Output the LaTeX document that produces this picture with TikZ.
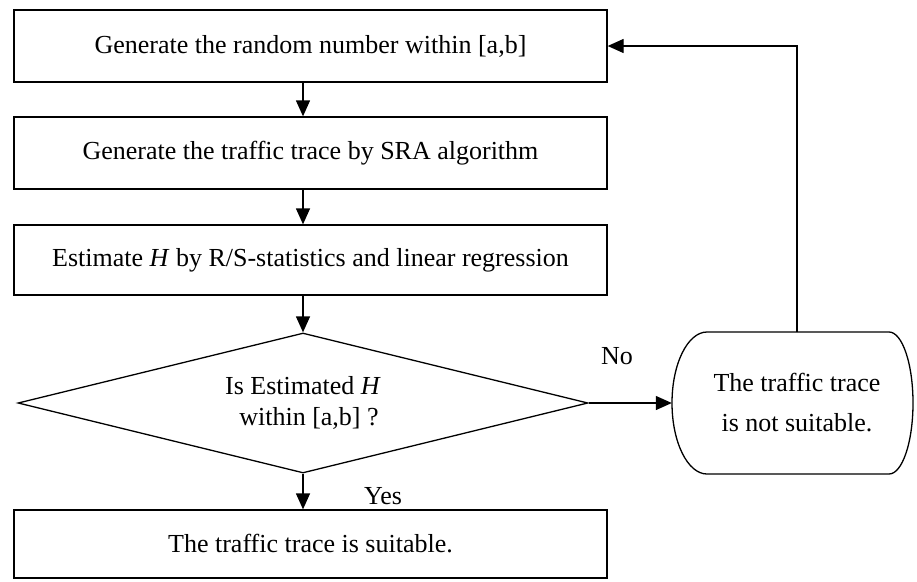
\documentclass[tikz,border=0pt]{standalone}
\usepackage{fontspec}
\setmainfont{Liberation Serif}
\usetikzlibrary{arrows.meta,shapes.geometric}
\begin{document}
\begin{tikzpicture}[x=1pt,y=1pt,
  lw/.style={line width=1.3pt},
  box/.style={draw,lw,minimum width=593pt,minimum height=72pt,inner sep=0pt,
    font=\fontsize{26}{31}\selectfont},
  arr/.style={lw,-{Triangle[length=16pt,width=14pt]}},
  txt/.style={font=\fontsize{26}{31}\selectfont,inner sep=0pt}]
\useasboundingbox (0,0) rectangle (917,-581);
\node[box] (b1) at (310.5,-46) {Generate the random number within [a,b]};
\node[box] (b2) at (310.5,-153) {Generate the traffic trace by SRA algorithm};
\node[box,minimum height=70pt] (b3) at (310.5,-260) {Estimate \textit{H} by R/S-statistics and linear regression};
\node[diamond,draw,lw,minimum width=570pt,minimum height=140pt,inner sep=0pt] (dec) at (303,-403) {};
\node[txt] (d1) at (303,-386) {Is Estimated \textit{H}};
\node[txt] (d2) at (309,-418) {within [a,b] ?};
\node[box,minimum height=68pt] (b5) at (310.5,-544) {The traffic trace is suitable.};
\node[txt,align=center,font=\fontsize{26}{40}\selectfont,minimum width=250pt,minimum height=142pt] (ns) at (797,-403) {The traffic trace\\is not suitable.};
\draw[lw] (707,-332) -- (889,-332) arc[start angle=90,end angle=-90,x radius=24pt,y radius=71pt]
  -- (707,-474) arc[start angle=270,end angle=90,x radius=35pt,y radius=71pt] -- cycle;
\node[txt] (no) at (617,-356) {No};
\node[txt] (yes) at (383,-496) {Yes};
\draw[arr] (b1.south -| dec.north) -- (b2.north -| dec.north);
\draw[arr] (b2.south -| dec.north) -- (b3.north -| dec.north);
\draw[arr] (b3.south -| dec.north) -- (dec.north);
\draw[arr] (dec.south) -- (b5.north -| dec.south);
\draw[arr] (dec.east) -- (ns.west);
\draw[arr] (ns.north) |- (b1.east);
\end{tikzpicture}
\end{document}
